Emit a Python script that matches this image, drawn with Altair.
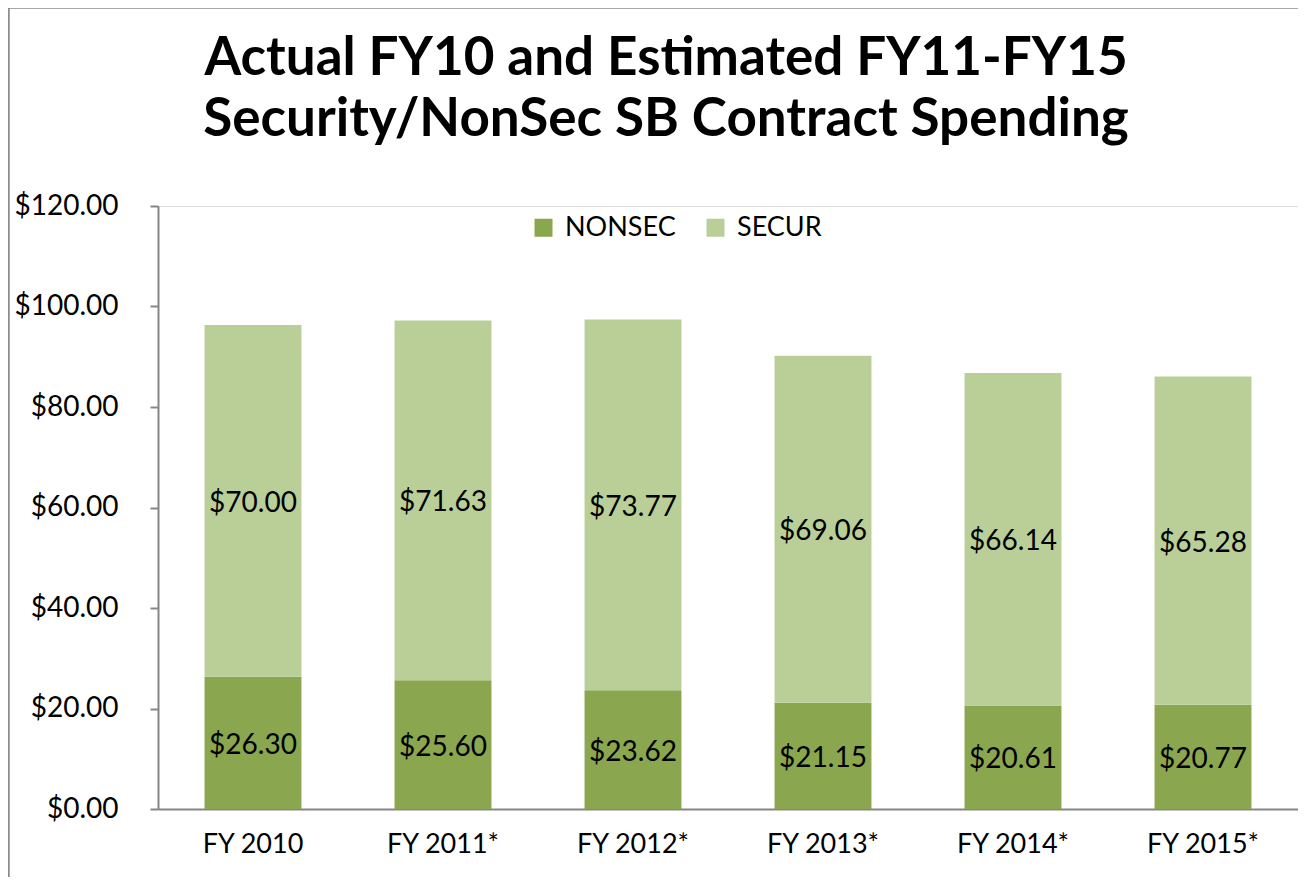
import altair as alt
import pandas as pd

categories = ["FY 2010", "FY 2011*", "FY 2012*", "FY 2013*", "FY 2014*", "FY 2015*"]
nonsec = [26.30, 25.60, 23.62, 21.15, 20.61, 20.77]
secur = [70.00, 71.63, 73.77, 69.06, 66.14, 65.28]
series = ["NONSEC", "SECUR"]
colors = ["#8AA64E", "#BACF97"]

rows = []
for c, n, s in zip(categories, nonsec, secur):
    rows.append({"cat": c, "series": "NONSEC", "value": n, "ord": 0})
    rows.append({"cat": c, "series": "SECUR", "value": s, "ord": 1})
df = pd.DataFrame(rows)

FONT = "Lato"

base = alt.Chart(df).transform_stack(
    stack="value", groupby=["cat"], as_=["v0", "v1"], sort=[alt.SortField("ord")]
).transform_calculate(mid="(datum.v0 + datum.v1) / 2")

xenc = alt.X(
    "cat:N", sort=categories, title=None,
    scale=alt.Scale(paddingInner=0.49, paddingOuter=0.245),
    axis=alt.Axis(labelAngle=0, ticks=False, labelPadding=22, labelFontSize=27,
                  labelFont=FONT, labelColor="#000", domainColor="#868686", domainWidth=2),
)

bars = base.mark_bar().encode(
    x=xenc,
    y=alt.Y("v0:Q", title=None,
            scale=alt.Scale(domain=[0, 120], nice=False),
            axis=alt.Axis(values=[0, 20, 40, 60, 80, 100, 120], format="$,.2f", grid=False,
                          tickSize=8, tickColor="#868686", tickWidth=2, domainColor="#868686",
                          domainWidth=2, labelPadding=32, labelFontSize=28, labelFont=FONT,
                          labelColor="#000")),
    y2="v1:Q",
    color=alt.Color("series:N", scale=alt.Scale(domain=series, range=colors),
                    legend=alt.Legend(title=None, orient="none", legendX=372, legendY=8,
                                      direction="horizontal", symbolType="square",
                                      symbolSize=324, symbolStrokeWidth=0, labelFontSize=27,
                                      labelFont=FONT, labelColor="#000", columnPadding=26,
                                      labelOffset=8)),
)

labels = base.mark_text(fontSize=28, font=FONT, color="#000", dy=3).encode(
    x=alt.X("cat:N", sort=categories),
    y=alt.Y("mid:Q"),
    text=alt.Text("value:Q", format="$,.2f"),
)

border = alt.Chart(pd.DataFrame({"a": [0]})).mark_rect(
    fill=None, stroke="#8c8c8c", strokeWidth=2.5
).encode(
    x=alt.value(-149.5), x2=alt.value(1200), y=alt.value(-198.5), y2=alt.value(900)
)

chart = alt.layer(border, bars, labels).properties(
    width=1140, height=603,
    title=alt.TitleParams(
        text=["Actual FY10 and Estimated FY11-FY15", "Security/NonSec SB Contract Spending"],
        font=FONT, fontSize=53, fontWeight="bold", color="#000", anchor="middle",
        baseline="alphabetic", dx=-62, dy=183, offset=0, lineHeight=61,
    ),
    autosize=alt.AutoSizeParams(type="none"),
    padding={"left": 150, "top": 198, "right": 0, "bottom": 68},
).configure_view(stroke=None).configure(background="white")

chart.save("out.html", embed_options={"renderer": "svg", "actions": False})
